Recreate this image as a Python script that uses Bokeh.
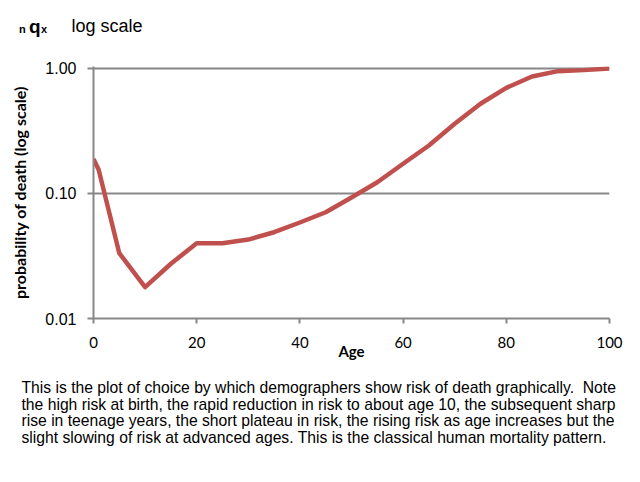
from bokeh.plotting import figure
from bokeh.models import Label, FixedTicker, ColumnDataSource
from bokeh.layouts import column, row
from bokeh.embed import file_html
from bokeh.resources import INLINE

ages = [0, 1, 5, 10, 15, 20, 25, 30, 35, 40, 45, 50, 55, 60, 65, 70, 75, 80, 85, 90, 95, 100]
qx = [0.189, 0.155, 0.0333, 0.0178, 0.0274, 0.040, 0.040, 0.0428, 0.049, 0.0586, 0.0708,
      0.093, 0.123, 0.173, 0.242, 0.361, 0.522, 0.70, 0.863, 0.952, 0.97, 1.0]
x_ticks = [0, 20, 40, 60, 80, 100]
y_ticks = [0.01, 0.1, 1.0]
y_tick_labels = ["0.01", "0.10", "1.00"]
title_main = "q"
title_pre = "n"
title_sub = "x"
title_text = "log scale"
x_title = "Age"
y_title = "probability of death (log scale)"
description = [
    "This is the plot of choice by which demographers show risk of death graphically.  Note",
    "the high risk at birth, the rapid reduction in risk to about age 10, the subsequent sharp",
    "rise in teenage years, the short plateau in risk, the rising risk as age increases but the",
    "slight slowing of risk at advanced ages. This is the classical human mortality pattern.",
]

GRAY = "#878787"
RED = "#C0504D"
W = 640
H_HEAD, H_MAIN, H_DESC = 45, 330, 107


def blank(height):
    f = figure(width=W, height=height, x_range=(0, W), y_range=(0, height),
               output_backend="svg", toolbar_location=None,
               x_axis_location=None, y_axis_location=None, min_border=0)
    f.grid.visible = False
    f.outline_line_color = None
    return f


def lab(f, text, x, y, size, bold=False):
    f.add_layout(Label(x=x, y=y, x_units="screen", y_units="screen", text=text,
                       text_font="Liberation Sans", text_font_size=size,
                       text_font_style="bold" if bold else "normal",
                       text_color="black", text_baseline="alphabetic", text_align="left"))


# header with title
head = blank(H_HEAD)
lab(head, title_pre, 18.5, 17, "11px", True)
lab(head, title_main, 28.5, 19, "19px", True)
lab(head, title_sub, 40.5, 17, "11px", True)
lab(head, title_text, 71, 19.3, "18px")

# main chart
p = figure(width=W, height=H_MAIN, y_axis_type="log",
           x_range=(0, 100), y_range=(0.01, 1.037),
           output_backend="svg", toolbar_location=None,
           min_border_left=93, min_border_right=31, min_border_top=21, min_border_bottom=57)
p.outline_line_color = None

src = ColumnDataSource(dict(age=ages, q=qx))
p.line("age", "q", source=src, line_color=RED, line_width=4.5, line_join="round")

p.xgrid.visible = False
p.ygrid.ticker = FixedTicker(ticks=y_ticks)
p.ygrid.grid_line_color = GRAY
p.ygrid.grid_line_width = 2

xa = p.xaxis[0]
xa.ticker = FixedTicker(ticks=x_ticks)
xa.axis_line_color = GRAY
xa.axis_line_width = 2
xa.major_tick_line_color = GRAY
xa.major_tick_line_width = 2
xa.major_tick_in = 0
xa.major_tick_out = 5
xa.minor_tick_line_color = None
xa.major_label_text_font = "Lato"
xa.major_label_text_font_size = "15px"
xa.major_label_text_color = "black"
xa.major_label_standoff = 13
xa.axis_label = x_title
xa.axis_label_text_font = "Lato"
xa.axis_label_text_font_style = "bold"
xa.axis_label_text_font_size = "15px"
xa.axis_label_text_color = "black"
xa.axis_label_standoff = -9

ya = p.yaxis[0]
ya.ticker = FixedTicker(ticks=y_ticks)
ya.major_label_overrides = {t: s for t, s in zip(y_ticks, y_tick_labels)}
ya.axis_line_color = GRAY
ya.axis_line_width = 2
ya.major_tick_line_color = GRAY
ya.major_tick_line_width = 2
ya.major_tick_in = 0
ya.major_tick_out = 6
ya.minor_tick_line_color = None
ya.major_label_text_font = "Liberation Sans"
ya.major_label_text_font_size = "16px"
ya.major_label_text_color = "black"
ya.major_label_standoff = 11
ya.axis_label = y_title
ya.axis_label_text_font = "Lato"
ya.axis_label_text_font_style = "bold"
ya.axis_label_text_font_size = "16px"
ya.axis_label_text_color = "black"
ya.axis_label_standoff = 13

# description below
desc = blank(H_DESC)
for i, line in enumerate(description):
    lab(desc, line.replace("  ", "\u00a0 "), 21, H_DESC - 11.7 - 16.8 * i, "15.7px")

layout = column(row(head), p, row(desc), spacing=0)
open("out.html", "w").write(file_html(layout, INLINE))
